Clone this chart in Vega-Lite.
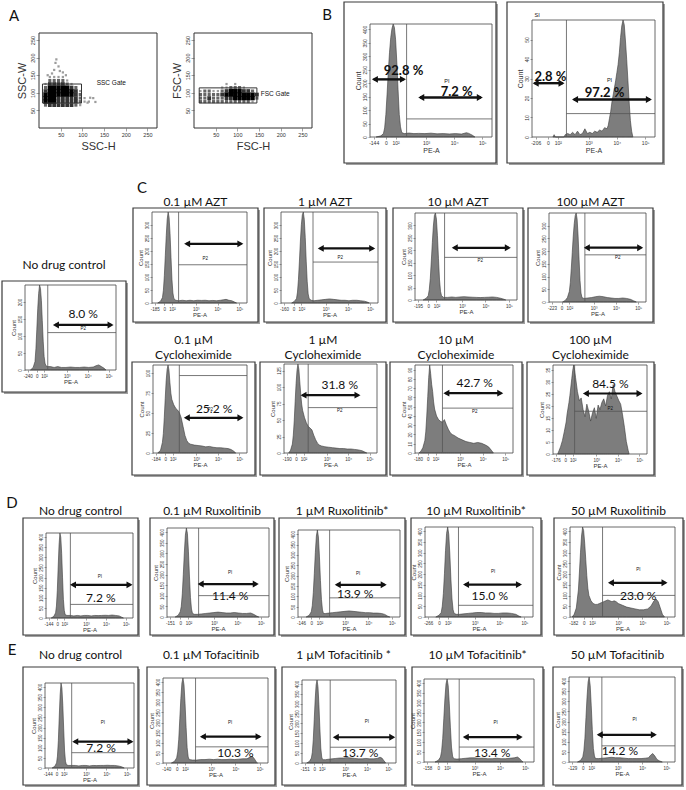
{
"$schema":"https://vega.github.io/schema/vega-lite/v6.json",
"width":686,"height":790,
"autosize":{"type":"none"},
"padding":0,
"background":"white",
"config":{
 "view":{"stroke":null},
 "axis":{"grid":false,"domain":false,"zindex":1,"labelFont":"Liberation Sans","labelFontSize":4.5,"labelColor":"#333","titleFont":"Liberation Sans","titleFontSize":6,"titleFontWeight":"normal","titleColor":"#333","tickSize":2,"tickWidth":0.5,"tickColor":"#444","labelOverlap":false,"labelFlush":false,"labelPadding":1,"titlePadding":1},
 "axisLeft":{"labelAngle":270,"labelAlign":"center","labelBaseline":"bottom"},
 "text":{"font":"Lato","fontSize":12,"color":"#111"},
 "rule":{"color":"#555","strokeWidth":0.8},
 "rect":{"fillOpacity":0,"stroke":"#444","strokeWidth":0.8},
 "point":{"filled":true,"opacity":1,"size":48,"color":"#111"},
 "square":{"opacity":1}
},
"resolve":{"scale":{"x":"independent","y":"independent"},"axis":{"x":"independent","y":"independent"}},
"datasets":{
 "ssc":[{"x":15,"y":65,"n":2},{"x":25,"y":65,"n":3},{"x":35,"y":65,"n":3},{"x":45,"y":65,"n":3},{"x":55,"y":65,"n":3},{"x":65,"y":65,"n":3},{"x":75,"y":65,"n":3},{"x":85,"y":65,"n":2},{"x":95,"y":65,"n":1},
  {"x":15,"y":75,"n":4},{"x":25,"y":75,"n":4},{"x":35,"y":75,"n":4},{"x":45,"y":75,"n":3},{"x":55,"y":75,"n":3},{"x":65,"y":75,"n":3},{"x":75,"y":75,"n":3},{"x":85,"y":75,"n":3},{"x":95,"y":75,"n":2},{"x":105,"y":75,"n":1},{"x":115,"y":75,"n":1},
  {"x":15,"y":85,"n":4},{"x":25,"y":85,"n":4},{"x":35,"y":85,"n":4},{"x":45,"y":85,"n":3},{"x":55,"y":85,"n":3},{"x":65,"y":85,"n":3},{"x":75,"y":85,"n":3},{"x":85,"y":85,"n":3},{"x":95,"y":85,"n":2},{"x":105,"y":85,"n":1},{"x":125,"y":85,"n":1},
  {"x":15,"y":95,"n":4},{"x":25,"y":95,"n":4},{"x":35,"y":95,"n":4},{"x":45,"y":95,"n":4},{"x":55,"y":95,"n":4},{"x":65,"y":95,"n":4},{"x":75,"y":95,"n":4},{"x":85,"y":95,"n":3},{"x":95,"y":95,"n":2},
  {"x":15,"y":105,"n":3},{"x":25,"y":105,"n":4},{"x":35,"y":105,"n":4},{"x":45,"y":105,"n":4},{"x":55,"y":105,"n":4},{"x":65,"y":105,"n":4},{"x":75,"y":105,"n":4},{"x":85,"y":105,"n":3},{"x":95,"y":105,"n":1},
  {"x":15,"y":115,"n":2},{"x":25,"y":115,"n":4},{"x":35,"y":115,"n":4},{"x":45,"y":115,"n":4},{"x":55,"y":115,"n":4},{"x":65,"y":115,"n":4},{"x":75,"y":115,"n":3},{"x":85,"y":115,"n":2},
  {"x":15,"y":125,"n":1},{"x":25,"y":125,"n":3},{"x":35,"y":125,"n":3},{"x":45,"y":125,"n":3},{"x":55,"y":125,"n":3},{"x":65,"y":125,"n":2},{"x":75,"y":125,"n":1},
  {"x":25,"y":135,"n":2},{"x":35,"y":135,"n":2},{"x":45,"y":135,"n":2},{"x":55,"y":135,"n":2},{"x":65,"y":135,"n":1},
  {"x":25,"y":145,"n":1},{"x":35,"y":145,"n":1},{"x":45,"y":145,"n":1},{"x":55,"y":145,"n":1},
  {"x":35,"y":165,"n":1},{"x":45,"y":175,"n":1},{"x":40,"y":195,"n":1},{"x":30,"y":155,"n":1},{"x":55,"y":158,"n":1},{"x":62,"y":150,"n":1},{"x":48,"y":162,"n":1},{"x":38,"y":185,"n":1},{"x":20,"y":150,"n":1},{"x":112,"y":72,"n":1},{"x":130,"y":74,"n":1},{"x":118,"y":86,"n":1}],
 "fsc":[{"x":15,"y":75,"n":2},{"x":25,"y":75,"n":2},{"x":35,"y":75,"n":2},{"x":45,"y":75,"n":2},{"x":55,"y":75,"n":2},{"x":65,"y":75,"n":2},{"x":75,"y":75,"n":2},{"x":85,"y":75,"n":2},{"x":95,"y":75,"n":2},{"x":105,"y":75,"n":2},{"x":115,"y":75,"n":2},{"x":125,"y":75,"n":2},{"x":135,"y":75,"n":1},
  {"x":15,"y":85,"n":2},{"x":25,"y":85,"n":2},{"x":35,"y":85,"n":3},{"x":45,"y":85,"n":2},{"x":55,"y":85,"n":2},{"x":65,"y":85,"n":2},{"x":75,"y":85,"n":3},{"x":85,"y":85,"n":3},{"x":95,"y":85,"n":4},{"x":105,"y":85,"n":4},{"x":115,"y":85,"n":4},{"x":125,"y":85,"n":4},{"x":135,"y":85,"n":4},{"x":145,"y":85,"n":2},
  {"x":15,"y":95,"n":2},{"x":25,"y":95,"n":2},{"x":35,"y":95,"n":2},{"x":45,"y":95,"n":2},{"x":55,"y":95,"n":2},{"x":65,"y":95,"n":3},{"x":75,"y":95,"n":4},{"x":85,"y":95,"n":4},{"x":95,"y":95,"n":4},{"x":105,"y":95,"n":4},{"x":115,"y":95,"n":4},{"x":125,"y":95,"n":4},{"x":135,"y":95,"n":4},{"x":145,"y":95,"n":3},
  {"x":15,"y":105,"n":1},{"x":25,"y":105,"n":2},{"x":35,"y":105,"n":2},{"x":45,"y":105,"n":1},{"x":55,"y":105,"n":1},{"x":65,"y":105,"n":2},{"x":75,"y":105,"n":3},{"x":85,"y":105,"n":4},{"x":95,"y":105,"n":4},{"x":105,"y":105,"n":4},{"x":115,"y":105,"n":3},{"x":125,"y":105,"n":3},{"x":135,"y":105,"n":2},
  {"x":65,"y":115,"n":1},{"x":75,"y":115,"n":1},{"x":85,"y":115,"n":2},{"x":95,"y":115,"n":2},{"x":105,"y":115,"n":2},{"x":115,"y":115,"n":1},
  {"x":75,"y":125,"n":1},{"x":95,"y":125,"n":1}],
 "b1":[{"x":5,"y":0},{"x":9,"y":1},{"x":11,"y":3},{"x":12,"y":8},{"x":13,"y":20},{"x":14,"y":38},{"x":15,"y":58},{"x":16,"y":75},{"x":17,"y":88},{"x":18,"y":96},{"x":19,"y":100},{"x":20,"y":97},{"x":21,"y":86},{"x":22,"y":66},{"x":23,"y":42},{"x":24,"y":20},{"x":25,"y":9},{"x":26,"y":4},{"x":28,"y":3},{"x":32,"y":3.5},{"x":36,"y":3},{"x":40,"y":3.2},{"x":45,"y":3},{"x":50,"y":3.4},{"x":55,"y":2.8},{"x":60,"y":3},{"x":65,"y":2.7},{"x":70,"y":3},{"x":75,"y":2.6},{"x":79,"y":3.8},{"x":81,"y":3.2},{"x":84,"y":1.5},{"x":86,"y":0}],
 "b2":[{"x":17,"y":0},{"x":18,"y":2},{"x":19,"y":0},{"x":26,"y":0},{"x":27,"y":2},{"x":29,"y":3},{"x":31,"y":2},{"x":33,"y":4},{"x":35,"y":2},{"x":37,"y":5},{"x":39,"y":2},{"x":41,"y":3},{"x":43,"y":7},{"x":45,"y":3},{"x":47,"y":4},{"x":49,"y":3},{"x":51,"y":5},{"x":53,"y":4},{"x":55,"y":6},{"x":57,"y":5},{"x":59,"y":8},{"x":61,"y":7},{"x":62,"y":10},{"x":63,"y":16},{"x":64,"y":22},{"x":65,"y":30},{"x":66,"y":36},{"x":67,"y":42},{"x":68,"y":48},{"x":69,"y":55},{"x":70,"y":62},{"x":71,"y":72},{"x":72,"y":85},{"x":73,"y":95},{"x":74,"y":100},{"x":75,"y":96},{"x":76,"y":82},{"x":77,"y":66},{"x":78,"y":48},{"x":79,"y":30},{"x":80,"y":14},{"x":81,"y":5},{"x":82,"y":0}],
 "cnd":[{"x":6,"y":0},{"x":9,"y":3},{"x":11,"y":10},{"x":12,"y":25},{"x":13,"y":48},{"x":14,"y":72},{"x":15,"y":90},{"x":16,"y":100},{"x":17,"y":96},{"x":18,"y":82},{"x":19,"y":58},{"x":20,"y":34},{"x":21,"y":16},{"x":22,"y":8},{"x":23,"y":5},{"x":25,"y":4},{"x":28,"y":4},{"x":32,"y":3},{"x":36,"y":4},{"x":40,"y":3},{"x":45,"y":3},{"x":50,"y":3.5},{"x":55,"y":3},{"x":60,"y":3},{"x":65,"y":3.5},{"x":70,"y":3},{"x":75,"y":3.5},{"x":78,"y":5},{"x":81,"y":6},{"x":84,"y":4},{"x":87,"y":2},{"x":89,"y":0}],
 "azt01":[{"x":6,"y":0},{"x":9,"y":2},{"x":11,"y":6},{"x":12,"y":14},{"x":13,"y":30},{"x":14,"y":52},{"x":15,"y":74},{"x":16,"y":92},{"x":17,"y":100},{"x":18,"y":94},{"x":19,"y":76},{"x":20,"y":50},{"x":21,"y":26},{"x":22,"y":11},{"x":23,"y":5},{"x":25,"y":3},{"x":28,"y":2.5},{"x":32,"y":3},{"x":36,"y":2.5},{"x":40,"y":3},{"x":44,"y":2.5},{"x":48,"y":3},{"x":52,"y":2.8},{"x":56,"y":3},{"x":60,"y":2.5},{"x":64,"y":2.8},{"x":68,"y":2.5},{"x":72,"y":3},{"x":75,"y":3.5},{"x":78,"y":4},{"x":81,"y":3},{"x":84,"y":2.5},{"x":87,"y":1},{"x":89,"y":0}],
 "azt1":[{"x":11,"y":0},{"x":14,"y":2},{"x":16,"y":5},{"x":17,"y":12},{"x":18,"y":26},{"x":19,"y":46},{"x":20,"y":68},{"x":21,"y":86},{"x":22,"y":97},{"x":23,"y":100},{"x":24,"y":92},{"x":25,"y":72},{"x":26,"y":46},{"x":27,"y":24},{"x":28,"y":10},{"x":29,"y":5},{"x":31,"y":3},{"x":34,"y":2.5},{"x":38,"y":3},{"x":42,"y":3.5},{"x":46,"y":4},{"x":50,"y":4.5},{"x":54,"y":4},{"x":58,"y":3.5},{"x":62,"y":3},{"x":66,"y":3},{"x":70,"y":2.5},{"x":74,"y":3},{"x":78,"y":3},{"x":82,"y":2.5},{"x":86,"y":2},{"x":89,"y":1},{"x":91,"y":0}],
 "azt10":[{"x":8,"y":0},{"x":11,"y":2},{"x":13,"y":5},{"x":14,"y":12},{"x":15,"y":25},{"x":16,"y":45},{"x":17,"y":66},{"x":18,"y":85},{"x":19,"y":97},{"x":20,"y":100},{"x":21,"y":93},{"x":22,"y":74},{"x":23,"y":48},{"x":24,"y":24},{"x":25,"y":10},{"x":26,"y":5},{"x":28,"y":3},{"x":32,"y":3},{"x":36,"y":3.5},{"x":40,"y":3},{"x":44,"y":3.5},{"x":48,"y":3.8},{"x":52,"y":3.5},{"x":56,"y":3.2},{"x":60,"y":3},{"x":64,"y":2.8},{"x":68,"y":3},{"x":72,"y":3.2},{"x":76,"y":3.5},{"x":80,"y":3},{"x":84,"y":2},{"x":87,"y":1},{"x":89,"y":0}],
 "azt100":[{"x":14,"y":0},{"x":17,"y":2},{"x":19,"y":5},{"x":21,"y":12},{"x":22,"y":22},{"x":23,"y":38},{"x":24,"y":56},{"x":25,"y":74},{"x":26,"y":88},{"x":27,"y":97},{"x":28,"y":100},{"x":29,"y":93},{"x":30,"y":74},{"x":31,"y":48},{"x":32,"y":24},{"x":33,"y":10},{"x":34,"y":5},{"x":36,"y":4},{"x":40,"y":4.5},{"x":44,"y":5},{"x":48,"y":6},{"x":52,"y":6.5},{"x":56,"y":6},{"x":60,"y":5},{"x":64,"y":4.5},{"x":68,"y":4},{"x":72,"y":4},{"x":76,"y":4.5},{"x":80,"y":4},{"x":84,"y":3},{"x":87,"y":1.5},{"x":90,"y":0}],
 "chx01":[{"x":5,"y":0},{"x":8,"y":3},{"x":10,"y":12},{"x":11,"y":22},{"x":12,"y":40},{"x":13,"y":62},{"x":14,"y":82},{"x":15,"y":95},{"x":16,"y":100},{"x":17,"y":94},{"x":18,"y":80},{"x":19,"y":68},{"x":20,"y":61},{"x":22,"y":55},{"x":24,"y":51},{"x":26,"y":49},{"x":28,"y":46},{"x":30,"y":40},{"x":32,"y":30},{"x":34,"y":20},{"x":36,"y":14},{"x":38,"y":11},{"x":40,"y":10},{"x":44,"y":9},{"x":48,"y":8.5},{"x":52,"y":8},{"x":56,"y":7},{"x":60,"y":7.5},{"x":64,"y":6.5},{"x":68,"y":6},{"x":72,"y":6},{"x":76,"y":5.5},{"x":80,"y":5},{"x":83,"y":4},{"x":86,"y":2},{"x":88,"y":0}],
 "chx1":[{"x":5,"y":0},{"x":7,"y":3},{"x":9,"y":10},{"x":10,"y":20},{"x":11,"y":36},{"x":12,"y":58},{"x":13,"y":78},{"x":14,"y":93},{"x":15,"y":100},{"x":16,"y":94},{"x":17,"y":80},{"x":18,"y":66},{"x":19,"y":55},{"x":20,"y":48},{"x":22,"y":40},{"x":24,"y":34},{"x":26,"y":30},{"x":28,"y":28},{"x":30,"y":26},{"x":32,"y":20},{"x":34,"y":15},{"x":36,"y":11},{"x":38,"y":9},{"x":40,"y":8},{"x":44,"y":7},{"x":48,"y":6.5},{"x":52,"y":6},{"x":56,"y":5.5},{"x":60,"y":5},{"x":64,"y":5},{"x":68,"y":4.5},{"x":72,"y":4.5},{"x":76,"y":4},{"x":80,"y":3.5},{"x":84,"y":2.5},{"x":87,"y":1},{"x":89,"y":0}],
 "chx10":[{"x":4,"y":0},{"x":6,"y":2},{"x":8,"y":6},{"x":10,"y":14},{"x":11,"y":24},{"x":12,"y":42},{"x":13,"y":64},{"x":14,"y":86},{"x":15,"y":100},{"x":16,"y":90},{"x":17,"y":78},{"x":18,"y":70},{"x":19,"y":58},{"x":20,"y":50},{"x":22,"y":42},{"x":24,"y":38},{"x":26,"y":36},{"x":28,"y":35},{"x":30,"y":38},{"x":32,"y":32},{"x":34,"y":27},{"x":36,"y":23},{"x":38,"y":21},{"x":40,"y":20},{"x":44,"y":17},{"x":48,"y":15},{"x":52,"y":13},{"x":56,"y":12},{"x":60,"y":11},{"x":64,"y":12},{"x":68,"y":11},{"x":72,"y":9},{"x":75,"y":7},{"x":78,"y":3},{"x":80,"y":0}],
 "chx100":[{"x":5,"y":0},{"x":8,"y":8},{"x":10,"y":15},{"x":12,"y":25},{"x":14,"y":36},{"x":15,"y":45},{"x":17,"y":58},{"x":18,"y":66},{"x":20,"y":85},{"x":21,"y":94},{"x":22,"y":100},{"x":23,"y":94},{"x":24,"y":86},{"x":26,"y":70},{"x":28,"y":60},{"x":30,"y":63},{"x":32,"y":50},{"x":34,"y":42},{"x":36,"y":56},{"x":38,"y":48},{"x":40,"y":37},{"x":42,"y":46},{"x":44,"y":52},{"x":46,"y":40},{"x":48,"y":55},{"x":50,"y":50},{"x":52,"y":58},{"x":54,"y":62},{"x":56,"y":54},{"x":58,"y":66},{"x":60,"y":70},{"x":62,"y":62},{"x":64,"y":78},{"x":66,"y":70},{"x":68,"y":65},{"x":70,"y":60},{"x":72,"y":56},{"x":74,"y":44},{"x":76,"y":30},{"x":78,"y":14},{"x":80,"y":4},{"x":81,"y":0}],
 "dnd":[{"x":6,"y":0},{"x":9,"y":2},{"x":11,"y":6},{"x":12,"y":14},{"x":13,"y":32},{"x":14,"y":60},{"x":15,"y":86},{"x":16,"y":100},{"x":17,"y":95},{"x":18,"y":76},{"x":19,"y":48},{"x":20,"y":22},{"x":21,"y":9},{"x":22,"y":4},{"x":24,"y":3},{"x":28,"y":3},{"x":32,"y":2.5},{"x":36,"y":3},{"x":40,"y":2.5},{"x":44,"y":3},{"x":48,"y":3},{"x":52,"y":2.5},{"x":56,"y":3},{"x":60,"y":2.8},{"x":64,"y":3},{"x":68,"y":3.2},{"x":72,"y":3},{"x":76,"y":3.5},{"x":80,"y":3},{"x":84,"y":2.5},{"x":87,"y":1},{"x":89,"y":0}],
 "r01":[{"x":8,"y":0},{"x":11,"y":2},{"x":13,"y":6},{"x":14,"y":12},{"x":15,"y":26},{"x":16,"y":48},{"x":17,"y":72},{"x":18,"y":92},{"x":19,"y":100},{"x":20,"y":94},{"x":21,"y":74},{"x":22,"y":46},{"x":23,"y":22},{"x":24,"y":9},{"x":25,"y":4},{"x":27,"y":3},{"x":30,"y":3},{"x":34,"y":3.5},{"x":38,"y":4},{"x":42,"y":4.5},{"x":46,"y":5},{"x":50,"y":5.5},{"x":54,"y":5},{"x":58,"y":4.5},{"x":62,"y":4.5},{"x":66,"y":5},{"x":70,"y":4.5},{"x":74,"y":4},{"x":78,"y":4},{"x":82,"y":4.5},{"x":85,"y":3},{"x":88,"y":1},{"x":90,"y":0}],
 "r1":[{"x":8,"y":0},{"x":11,"y":2},{"x":13,"y":6},{"x":14,"y":13},{"x":15,"y":28},{"x":16,"y":50},{"x":17,"y":74},{"x":18,"y":93},{"x":19,"y":100},{"x":20,"y":92},{"x":21,"y":70},{"x":22,"y":42},{"x":23,"y":20},{"x":24,"y":8},{"x":25,"y":4},{"x":27,"y":4},{"x":30,"y":4.5},{"x":34,"y":5},{"x":38,"y":5.5},{"x":42,"y":6},{"x":46,"y":6.5},{"x":50,"y":7},{"x":54,"y":6.5},{"x":58,"y":6},{"x":62,"y":5.5},{"x":66,"y":5},{"x":70,"y":5},{"x":74,"y":4.5},{"x":78,"y":4.5},{"x":82,"y":4},{"x":85,"y":3},{"x":88,"y":1},{"x":90,"y":0}],
 "r10":[{"x":10,"y":0},{"x":13,"y":2},{"x":15,"y":5},{"x":16,"y":12},{"x":17,"y":26},{"x":18,"y":48},{"x":19,"y":74},{"x":20,"y":93},{"x":21,"y":100},{"x":22,"y":92},{"x":23,"y":70},{"x":24,"y":42},{"x":25,"y":20},{"x":26,"y":8},{"x":27,"y":4},{"x":29,"y":3},{"x":32,"y":3},{"x":36,"y":3.5},{"x":40,"y":4},{"x":44,"y":4.5},{"x":48,"y":5},{"x":52,"y":5},{"x":56,"y":4.5},{"x":60,"y":4.5},{"x":64,"y":4},{"x":68,"y":4},{"x":72,"y":4.5},{"x":76,"y":4.5},{"x":80,"y":4},{"x":84,"y":3},{"x":87,"y":1},{"x":89,"y":0}],
 "r50":[{"x":2,"y":0},{"x":4,"y":3},{"x":6,"y":10},{"x":8,"y":30},{"x":9,"y":50},{"x":10,"y":72},{"x":11,"y":90},{"x":12,"y":100},{"x":13,"y":96},{"x":14,"y":82},{"x":15,"y":64},{"x":16,"y":46},{"x":17,"y":32},{"x":18,"y":24},{"x":20,"y":18},{"x":22,"y":15},{"x":24,"y":14},{"x":26,"y":14},{"x":28,"y":15},{"x":30,"y":16},{"x":32,"y":17},{"x":34,"y":18},{"x":36,"y":19},{"x":38,"y":18},{"x":40,"y":17},{"x":42,"y":18},{"x":44,"y":17},{"x":46,"y":15},{"x":50,"y":13},{"x":54,"y":11},{"x":58,"y":10},{"x":62,"y":9},{"x":66,"y":8},{"x":70,"y":8},{"x":74,"y":9},{"x":77,"y":12},{"x":80,"y":18},{"x":82,"y":20},{"x":84,"y":17},{"x":86,"y":10},{"x":88,"y":3},{"x":90,"y":0}],
 "end":[{"x":8,"y":0},{"x":11,"y":2},{"x":13,"y":6},{"x":14,"y":14},{"x":15,"y":32},{"x":16,"y":60},{"x":17,"y":86},{"x":18,"y":100},{"x":19,"y":94},{"x":20,"y":74},{"x":21,"y":46},{"x":22,"y":20},{"x":23,"y":8},{"x":24,"y":4},{"x":26,"y":3},{"x":30,"y":3},{"x":34,"y":3},{"x":38,"y":2.5},{"x":42,"y":3},{"x":46,"y":3},{"x":50,"y":2.5},{"x":54,"y":3},{"x":58,"y":2.8},{"x":62,"y":3},{"x":66,"y":3},{"x":70,"y":3.2},{"x":74,"y":3},{"x":78,"y":3},{"x":82,"y":2.5},{"x":86,"y":1.5},{"x":89,"y":0}],
 "t01":[{"x":8,"y":0},{"x":11,"y":2},{"x":13,"y":6},{"x":14,"y":13},{"x":15,"y":28},{"x":16,"y":52},{"x":17,"y":76},{"x":18,"y":94},{"x":19,"y":100},{"x":20,"y":92},{"x":21,"y":70},{"x":22,"y":42},{"x":23,"y":18},{"x":24,"y":7},{"x":25,"y":4},{"x":28,"y":3.5},{"x":32,"y":3.5},{"x":36,"y":4},{"x":40,"y":4},{"x":44,"y":4.5},{"x":48,"y":4},{"x":52,"y":4.5},{"x":56,"y":4},{"x":60,"y":4},{"x":64,"y":4.5},{"x":68,"y":4},{"x":72,"y":4.5},{"x":76,"y":5},{"x":80,"y":5},{"x":83,"y":7},{"x":85,"y":8},{"x":87,"y":5},{"x":89,"y":1},{"x":90,"y":0}],
 "t1":[{"x":5,"y":0},{"x":8,"y":2},{"x":10,"y":6},{"x":11,"y":13},{"x":12,"y":28},{"x":13,"y":52},{"x":14,"y":76},{"x":15,"y":94},{"x":16,"y":100},{"x":17,"y":92},{"x":18,"y":70},{"x":19,"y":42},{"x":20,"y":18},{"x":21,"y":7},{"x":22,"y":4},{"x":25,"y":4},{"x":28,"y":4.5},{"x":32,"y":5},{"x":36,"y":5.5},{"x":40,"y":6},{"x":44,"y":6},{"x":48,"y":6.5},{"x":52,"y":6},{"x":56,"y":5.5},{"x":60,"y":5},{"x":64,"y":5},{"x":68,"y":5.5},{"x":72,"y":5},{"x":76,"y":5},{"x":80,"y":5.5},{"x":83,"y":7},{"x":85,"y":6},{"x":87,"y":3},{"x":89,"y":0}],
 "t10":[{"x":10,"y":0},{"x":13,"y":2},{"x":15,"y":6},{"x":16,"y":13},{"x":17,"y":28},{"x":18,"y":52},{"x":19,"y":76},{"x":20,"y":94},{"x":21,"y":100},{"x":22,"y":92},{"x":23,"y":70},{"x":24,"y":42},{"x":25,"y":18},{"x":26,"y":7},{"x":27,"y":4},{"x":30,"y":3.5},{"x":34,"y":4},{"x":38,"y":4.5},{"x":42,"y":5},{"x":46,"y":5},{"x":50,"y":4.5},{"x":54,"y":4.5},{"x":58,"y":4},{"x":62,"y":4},{"x":66,"y":4.5},{"x":70,"y":4},{"x":74,"y":4},{"x":78,"y":4.5},{"x":82,"y":5},{"x":85,"y":6},{"x":87,"y":4},{"x":89,"y":1},{"x":90,"y":0}],
 "t50":[{"x":8,"y":0},{"x":11,"y":2},{"x":13,"y":6},{"x":14,"y":13},{"x":15,"y":28},{"x":16,"y":52},{"x":17,"y":76},{"x":18,"y":94},{"x":19,"y":100},{"x":20,"y":90},{"x":21,"y":66},{"x":22,"y":38},{"x":23,"y":16},{"x":24,"y":7},{"x":25,"y":4},{"x":28,"y":4},{"x":32,"y":4.5},{"x":36,"y":5},{"x":40,"y":5.5},{"x":44,"y":5},{"x":48,"y":5},{"x":52,"y":4.5},{"x":56,"y":4},{"x":60,"y":4},{"x":64,"y":4},{"x":68,"y":4},{"x":72,"y":4.5},{"x":75,"y":5},{"x":77,"y":8},{"x":79,"y":10},{"x":81,"y":7},{"x":83,"y":3},{"x":85,"y":1.5},{"x":88,"y":0}]
},
"layer":[
 {"data":{"values":[{}]},"layer":[
  {"data":{"name":"ssc"},"mark":{"type":"square"},
   "encoding":{
    "x":{"field":"x","type":"quantitative","scale":{"domain":[0,272],"range":[39,157],"nice":false,"zero":false},"axis":{"zindex":1,"labelOverlap":false,"orient":"bottom","offset":-662,"values":[50,100,150,200,250],"title":"SSC-H","titleFontSize":11,"labelFontSize":5.5,"tickSize":3,"titlePadding":3}},
    "y":{"field":"y","type":"quantitative","scale":{"domain":[0,270],"range":[128,33],"nice":false,"zero":false},"axis":{"zindex":1,"labelOverlap":false,"orient":"left","offset":-39,"values":[50,100,150,200,250],"title":"SSC-W","titleFontSize":11,"labelFontSize":5.5,"tickSize":3,"titlePadding":3}},
    "color":{"field":"n","type":"quantitative","scale":{"domain":[1,4],"range":["#9c9c9c","#000000"]},"legend":null},
    "size":{"field":"n","type":"quantitative","scale":{"domain":[1,4],"range":[5,19]},"legend":null}}},
  {"mark":{"type":"rect","stroke":"#333","strokeWidth":1},"encoding":{"x":{"datum":0},"x2":{"datum":272},"y":{"datum":0},"y2":{"datum":270}}},
  {"mark":{"type":"rect","stroke":"#333","strokeWidth":1},"encoding":{"x":{"datum":8},"x2":{"datum":98},"y":{"datum":71},"y2":{"datum":125}}},
  {"mark":{"type":"text","text":"SSC Gate","font":"Liberation Sans","fontSize":6.5,"align":"left"},"encoding":{"x":{"datum":133},"y":{"datum":128}}},
  {"mark":{"type":"text","text":"A","fontSize":15,"baseline":"alphabetic"},"encoding":{"x":{"datum":-57.6},"y":{"datum":304}}}
 ]},
 {"data":{"values":[{}]},"layer":[
  {"data":{"name":"fsc"},"mark":{"type":"square"},
   "encoding":{
    "x":{"field":"x","type":"quantitative","scale":{"domain":[0,272],"range":[194,312],"nice":false,"zero":false},"axis":{"zindex":1,"labelOverlap":false,"orient":"bottom","offset":-662,"values":[50,100,150,200,250],"title":"FSC-H","titleFontSize":11,"labelFontSize":5.5,"tickSize":3,"titlePadding":3}},
    "y":{"field":"y","type":"quantitative","scale":{"domain":[0,270],"range":[128,33],"nice":false,"zero":false},"axis":{"zindex":1,"labelOverlap":false,"orient":"left","offset":-194,"values":[50,100,150,200,250],"title":"FSC-W","titleFontSize":11,"labelFontSize":5.5,"tickSize":3,"titlePadding":3}},
    "color":{"field":"n","type":"quantitative","scale":{"domain":[1,4],"range":["#9c9c9c","#000000"]},"legend":null},
    "size":{"field":"n","type":"quantitative","scale":{"domain":[1,4],"range":[5,19]},"legend":null}}},
  {"mark":{"type":"rect","stroke":"#333","strokeWidth":1},"encoding":{"x":{"datum":0},"x2":{"datum":272},"y":{"datum":0},"y2":{"datum":270}}},
  {"mark":{"type":"rect","stroke":"#333","strokeWidth":1},"encoding":{"x":{"datum":12},"x2":{"datum":145},"y":{"datum":71},"y2":{"datum":114}}},
  {"mark":{"type":"text","text":"FSC Gate","font":"Liberation Sans","fontSize":6.5,"align":"left"},"encoding":{"x":{"datum":154},"y":{"datum":97}}}
 ]},
 {"data":{"values":[{}]},"layer":[
  {"mark":{"type":"rect","fill":"#a0a0a0","fillOpacity":1,"strokeWidth":0},"encoding":{"x":{"datum":-19.67},"x2":{"datum":104.92},"y":{"datum":-24.78},"y2":{"datum":117.7}}},
  {"mark":{"type":"rect","fill":"white","fillOpacity":1,"stroke":"#3a3a3a","strokeWidth":1.2},"encoding":{"x":{"datum":-21.31},"x2":{"datum":103.28},"y":{"datum":-23.01},"y2":{"datum":119.47}}},
  {"data":{"name":"b1"},"mark":{"type":"area","fill":"#7d7d7d","stroke":"#3a3a3a","strokeWidth":0.6},
   "encoding":{
    "x":{"field":"x","type":"quantitative","scale":{"domain":[0,100],"range":[370,492],"nice":false,"zero":false},"axis":{"zindex":1,"labelOverlap":false,"orient":"bottom","offset":-653,"labelFontSize":5,"titleFontSize":7,"values":[3,13,21,46,69,92],"labelExpr":"datum.value==3?'-144':datum.value==13?'0':datum.value==21?'10²':datum.value==46?'10³':datum.value==69?'10⁴':'10⁵'","title":"PE-A"}},
    "y":{"field":"y","type":"quantitative","scale":{"domain":[0,100],"range":[137,24],"nice":false},"axis":{"zindex":1,"labelOverlap":false,"orient":"left","offset":-370,"labelFontSize":5,"titleFontSize":7,"values":[0,11.905,23.81,35.714,47.619,59.524,71.429,83.333,95.238],"labelExpr":"format(datum.value*4.2,'d')","title":"Count"}}}},
  {"mark":{"type":"rect"},"encoding":{"x":{"datum":0},"x2":{"datum":100},"y":{"datum":0},"y2":{"datum":100}}},
  {"mark":{"type":"rule"},"encoding":{"x":{"datum":30},"y":{"datum":0},"y2":{"datum":100}}},
  {"mark":{"type":"rule"},"encoding":{"x":{"datum":30},"x2":{"datum":100},"y":{"datum":16}}},
  {"mark":{"type":"rule","color":"#111","strokeWidth":2.4},"encoding":{"x":{"datum":3},"x2":{"datum":28},"y":{"datum":51}}},
  {"mark":{"type":"point","shape":"triangle-left"},"encoding":{"x":{"datum":4},"y":{"datum":51}}},
  {"mark":{"type":"point","shape":"triangle-right"},"encoding":{"x":{"datum":27},"y":{"datum":51}}},
  {"mark":{"type":"rule","color":"#111","strokeWidth":2.4},"encoding":{"x":{"datum":41},"x2":{"datum":91},"y":{"datum":35}}},
  {"mark":{"type":"point","shape":"triangle-left"},"encoding":{"x":{"datum":42},"y":{"datum":35}}},
  {"mark":{"type":"point","shape":"triangle-right"},"encoding":{"x":{"datum":90},"y":{"datum":35}}},
  {"mark":{"type":"text","text":"92.8 %","fontWeight":"bold","fontSize":13},"encoding":{"x":{"datum":27.5},"y":{"datum":58}}},
  {"mark":{"type":"text","text":"7.2 %","fontWeight":"bold","fontSize":13},"encoding":{"x":{"datum":71},"y":{"datum":40}}},
  {"mark":{"type":"text","text":"PI","fontSize":5.5,"font":"Liberation Sans"},"encoding":{"x":{"datum":63},"y":{"datum":50}}},
  {"mark":{"type":"text","text":"B","fontSize":15,"baseline":"alphabetic"},"encoding":{"x":{"datum":-35.25},"y":{"datum":103.54}}}
 ]},
 {"data":{"values":[{}]},"layer":[
  {"mark":{"type":"rect","fill":"#a0a0a0","fillOpacity":1,"strokeWidth":0},"encoding":{"x":{"datum":-18.7},"x2":{"datum":108.13},"y":{"datum":-23.93},"y2":{"datum":113.67}}},
  {"mark":{"type":"rect","fill":"white","fillOpacity":1,"stroke":"#3a3a3a","strokeWidth":1.2},"encoding":{"x":{"datum":-20.33},"x2":{"datum":106.5},"y":{"datum":-22.22},"y2":{"datum":115.38}}},
  {"data":{"name":"b2"},"mark":{"type":"area","fill":"#7d7d7d","stroke":"#3a3a3a","strokeWidth":0.6},
   "encoding":{
    "x":{"field":"x","type":"quantitative","scale":{"domain":[0,100],"range":[532,655],"nice":false,"zero":false},"axis":{"zindex":1,"labelOverlap":false,"orient":"bottom","offset":-653,"labelFontSize":5,"titleFontSize":7,"values":[3,13,21,46,69,92],"labelExpr":"datum.value==3?'-206':datum.value==13?'0':datum.value==21?'10²':datum.value==46?'10³':datum.value==69?'10⁴':'10⁵'","title":"PE-A"}},
    "y":{"field":"y","type":"quantitative","scale":{"domain":[0,100],"range":[137,20],"nice":false},"axis":{"zindex":1,"labelOverlap":false,"orient":"left","offset":-532,"labelFontSize":5,"titleFontSize":7,"values":[0,16.667,33.333,50,66.667,83.333],"labelExpr":"format(datum.value*0.6,'d')","title":"Count"}}}},
  {"mark":{"type":"rect"},"encoding":{"x":{"datum":0},"x2":{"datum":100},"y":{"datum":0},"y2":{"datum":100}}},
  {"mark":{"type":"rule"},"encoding":{"x":{"datum":28},"y":{"datum":0},"y2":{"datum":100}}},
  {"mark":{"type":"rule"},"encoding":{"x":{"datum":28},"x2":{"datum":100},"y":{"datum":20}}},
  {"mark":{"type":"rule","color":"#111","strokeWidth":2.4},"encoding":{"x":{"datum":2},"x2":{"datum":25},"y":{"datum":46}}},
  {"mark":{"type":"point","shape":"triangle-left"},"encoding":{"x":{"datum":3},"y":{"datum":46}}},
  {"mark":{"type":"point","shape":"triangle-right"},"encoding":{"x":{"datum":24},"y":{"datum":46}}},
  {"mark":{"type":"rule","color":"#111","strokeWidth":2.4},"encoding":{"x":{"datum":34},"x2":{"datum":96},"y":{"datum":32}}},
  {"mark":{"type":"point","shape":"triangle-left"},"encoding":{"x":{"datum":35},"y":{"datum":32}}},
  {"mark":{"type":"point","shape":"triangle-right"},"encoding":{"x":{"datum":95},"y":{"datum":32}}},
  {"mark":{"type":"text","text":"2.8 %","fontWeight":"bold","fontSize":13},"encoding":{"x":{"datum":15},"y":{"datum":51}}},
  {"mark":{"type":"text","text":"97.2 %","fontWeight":"bold","fontSize":13},"encoding":{"x":{"datum":59},"y":{"datum":38}}},
  {"mark":{"type":"text","text":"PI","fontSize":5.5,"font":"Liberation Sans"},"encoding":{"x":{"datum":63},"y":{"datum":49}}},
  {"mark":{"type":"text","text":"SI","fontSize":5.5,"font":"Liberation Sans","align":"left"},"encoding":{"x":{"datum":2},"y":{"datum":104}}}
 ]},
 {"data":{"values":[{}]},"layer":[
  {"mark":{"type":"rect","fill":"#a0a0a0","fillOpacity":1,"strokeWidth":0},"encoding":{"x":{"datum":-23.07},"x2":{"datum":113.19},"y":{"datum":-28.23},"y2":{"datum":102.36}}},
  {"mark":{"type":"rect","fill":"white","fillOpacity":1,"stroke":"#3a3a3a","strokeWidth":1.2},"encoding":{"x":{"datum":-25.27},"x2":{"datum":110.99},"y":{"datum":-25.88},"y2":{"datum":104.71}}},
  {"data":{"name":"cnd"},"mark":{"type":"area","fill":"#7d7d7d","stroke":"#3a3a3a","strokeWidth":0.6},
   "encoding":{
    "x":{"field":"x","type":"quantitative","scale":{"domain":[0,100],"range":[25,116],"nice":false,"zero":false},"axis":{"zindex":1,"labelOverlap":false,"orient":"bottom","offset":-420,"values":[3,13,21,46,69,92],"labelExpr":"datum.value==3?'-240':datum.value==13?'0':datum.value==21?'10²':datum.value==46?'10³':datum.value==69?'10⁴':'10⁵'","title":"PE-A"}},
    "y":{"field":"y","type":"quantitative","scale":{"domain":[0,100],"range":[370,285],"nice":false},"axis":{"zindex":1,"labelOverlap":false,"orient":"left","offset":-25,"values":[0,20,40,60,80],"labelExpr":"format(datum.value*2.5,'d')","title":"Count"}}}},
  {"mark":{"type":"rect"},"encoding":{"x":{"datum":0},"x2":{"datum":100},"y":{"datum":0},"y2":{"datum":100}}},
  {"mark":{"type":"rule"},"encoding":{"x":{"datum":25},"y":{"datum":0},"y2":{"datum":100}}},
  {"mark":{"type":"rule"},"encoding":{"x":{"datum":25},"x2":{"datum":100},"y":{"datum":44}}},
  {"mark":{"type":"rule","color":"#111","strokeWidth":2.2},"encoding":{"x":{"datum":33},"x2":{"datum":95},"y":{"datum":53}}},
  {"mark":{"type":"point","shape":"triangle-left"},"encoding":{"x":{"datum":34},"y":{"datum":53}}},
  {"mark":{"type":"point","shape":"triangle-right"},"encoding":{"x":{"datum":94},"y":{"datum":53}}},
  {"mark":{"type":"text","text":"8.0 %"},"encoding":{"x":{"datum":64},"y":{"datum":66}}},
  {"mark":{"type":"text","text":"P2","fontSize":4.5,"font":"Liberation Sans"},"encoding":{"x":{"datum":64},"y":{"datum":48}}},
  {"mark":{"type":"text","text":"No drug control","baseline":"alphabetic"},"encoding":{"x":{"datum":42.86},"y":{"datum":118.82}}}
 ]},
 {"data":{"values":[{}]},"layer":[
  {"mark":{"type":"rect","fill":"#a0a0a0","fillOpacity":1,"strokeWidth":0},"encoding":{"x":{"datum":-17.89},"x2":{"datum":113.69},"y":{"datum":-23.08},"y2":{"datum":102.2}}},
  {"mark":{"type":"rect","fill":"white","fillOpacity":1,"stroke":"#3a3a3a","strokeWidth":1.2},"encoding":{"x":{"datum":-20},"x2":{"datum":111.58},"y":{"datum":-20.88},"y2":{"datum":104.4}}},
  {"data":{"name":"azt01"},"mark":{"type":"area","fill":"#7d7d7d","stroke":"#3a3a3a","strokeWidth":0.6},
   "encoding":{
    "x":{"field":"x","type":"quantitative","scale":{"domain":[0,100],"range":[152,247],"nice":false,"zero":false},"axis":{"zindex":1,"labelOverlap":false,"orient":"bottom","offset":-487,"values":[3,13,21,46,69,92],"labelExpr":"datum.value==3?'-185':datum.value==13?'0':datum.value==21?'10²':datum.value==46?'10³':datum.value==69?'10⁴':'10⁵'","title":"PE-A"}},
    "y":{"field":"y","type":"quantitative","scale":{"domain":[0,100],"range":[303,212],"nice":false},"axis":{"zindex":1,"labelOverlap":false,"orient":"left","offset":-152,"values":[0,14.286,28.571,42.857,57.143,71.429,85.714],"labelExpr":"format(datum.value*3.5,'d')","title":"Count"}}}},
  {"mark":{"type":"rect"},"encoding":{"x":{"datum":0},"x2":{"datum":100},"y":{"datum":0},"y2":{"datum":100}}},
  {"mark":{"type":"rule"},"encoding":{"x":{"datum":28},"y":{"datum":0},"y2":{"datum":100}}},
  {"mark":{"type":"rule"},"encoding":{"x":{"datum":28},"x2":{"datum":100},"y":{"datum":42}}},
  {"mark":{"type":"rule","color":"#111","strokeWidth":2.2},"encoding":{"x":{"datum":36},"x2":{"datum":94},"y":{"datum":65}}},
  {"mark":{"type":"point","shape":"triangle-left"},"encoding":{"x":{"datum":37},"y":{"datum":65}}},
  {"mark":{"type":"point","shape":"triangle-right"},"encoding":{"x":{"datum":93},"y":{"datum":65}}},
  {"mark":{"type":"text","text":"P2","fontSize":4.5,"font":"Liberation Sans"},"encoding":{"x":{"datum":56},"y":{"datum":48}}},
  {"mark":{"type":"text","text":"0.1 µM AZT","baseline":"alphabetic"},"encoding":{"x":{"datum":45.79},"y":{"datum":106.59}}},
  {"mark":{"type":"text","text":"C","fontSize":15,"baseline":"alphabetic"},"encoding":{"x":{"datum":-10.53},"y":{"datum":120.88}}}
 ]},
 {"data":{"values":[{}]},"layer":[
  {"mark":{"type":"rect","fill":"#a0a0a0","fillOpacity":1,"strokeWidth":0},"encoding":{"x":{"datum":-15.47},"x2":{"datum":110.31},"y":{"datum":-23.08},"y2":{"datum":102.2}}},
  {"mark":{"type":"rect","fill":"white","fillOpacity":1,"stroke":"#3a3a3a","strokeWidth":1.2},"encoding":{"x":{"datum":-17.53},"x2":{"datum":108.25},"y":{"datum":-20.88},"y2":{"datum":104.4}}},
  {"data":{"name":"azt1"},"mark":{"type":"area","fill":"#7d7d7d","stroke":"#3a3a3a","strokeWidth":0.6},
   "encoding":{
    "x":{"field":"x","type":"quantitative","scale":{"domain":[0,100],"range":[281,378],"nice":false,"zero":false},"axis":{"zindex":1,"labelOverlap":false,"orient":"bottom","offset":-487,"values":[3,13,21,46,69,92],"labelExpr":"datum.value==3?'-160':datum.value==13?'0':datum.value==21?'10²':datum.value==46?'10³':datum.value==69?'10⁴':'10⁵'","title":"PE-A"}},
    "y":{"field":"y","type":"quantitative","scale":{"domain":[0,100],"range":[303,212],"nice":false},"axis":{"zindex":1,"labelOverlap":false,"orient":"left","offset":-281,"values":[0,14.286,28.571,42.857,57.143,71.429,85.714],"labelExpr":"format(datum.value*3.5,'d')","title":"Count"}}}},
  {"mark":{"type":"rect"},"encoding":{"x":{"datum":0},"x2":{"datum":100},"y":{"datum":0},"y2":{"datum":100}}},
  {"mark":{"type":"rule"},"encoding":{"x":{"datum":33},"y":{"datum":0},"y2":{"datum":100}}},
  {"mark":{"type":"rule"},"encoding":{"x":{"datum":33},"x2":{"datum":100},"y":{"datum":45}}},
  {"mark":{"type":"rule","color":"#111","strokeWidth":2.2},"encoding":{"x":{"datum":40},"x2":{"datum":95},"y":{"datum":60}}},
  {"mark":{"type":"point","shape":"triangle-left"},"encoding":{"x":{"datum":41},"y":{"datum":60}}},
  {"mark":{"type":"point","shape":"triangle-right"},"encoding":{"x":{"datum":94},"y":{"datum":60}}},
  {"mark":{"type":"text","text":"P2","fontSize":4.5,"font":"Liberation Sans"},"encoding":{"x":{"datum":61},"y":{"datum":49}}},
  {"mark":{"type":"text","text":"1 µM AZT","baseline":"alphabetic"},"encoding":{"x":{"datum":45.36},"y":{"datum":106.59}}}
 ]},
 {"data":{"values":[{}]},"layer":[
  {"mark":{"type":"rect","fill":"#a0a0a0","fillOpacity":1,"strokeWidth":0},"encoding":{"x":{"datum":-19.61},"x2":{"datum":107.84},"y":{"datum":-27.59},"y2":{"datum":103.45}}},
  {"mark":{"type":"rect","fill":"white","fillOpacity":1,"stroke":"#3a3a3a","strokeWidth":1.2},"encoding":{"x":{"datum":-21.57},"x2":{"datum":105.88},"y":{"datum":-25.29},"y2":{"datum":105.75}}},
  {"data":{"name":"azt10"},"mark":{"type":"area","fill":"#7d7d7d","stroke":"#3a3a3a","strokeWidth":0.6},
   "encoding":{
    "x":{"field":"x","type":"quantitative","scale":{"domain":[0,100],"range":[415,517],"nice":false,"zero":false},"axis":{"zindex":1,"labelOverlap":false,"orient":"bottom","offset":-490,"values":[3,13,21,46,69,92],"labelExpr":"datum.value==3?'-195':datum.value==13?'0':datum.value==21?'10²':datum.value==46?'10³':datum.value==69?'10⁴':'10⁵'","title":"PE-A"}},
    "y":{"field":"y","type":"quantitative","scale":{"domain":[0,100],"range":[300,213],"nice":false},"axis":{"zindex":1,"labelOverlap":false,"orient":"left","offset":-415,"values":[0,14.286,28.571,42.857,57.143,71.429,85.714],"labelExpr":"format(datum.value*3.5,'d')","title":"Count"}}}},
  {"mark":{"type":"rect"},"encoding":{"x":{"datum":0},"x2":{"datum":100},"y":{"datum":0},"y2":{"datum":100}}},
  {"mark":{"type":"rule"},"encoding":{"x":{"datum":29},"y":{"datum":0},"y2":{"datum":100}}},
  {"mark":{"type":"rule"},"encoding":{"x":{"datum":29},"x2":{"datum":100},"y":{"datum":49}}},
  {"mark":{"type":"rule","color":"#111","strokeWidth":2.2},"encoding":{"x":{"datum":38},"x2":{"datum":92},"y":{"datum":60}}},
  {"mark":{"type":"point","shape":"triangle-left"},"encoding":{"x":{"datum":39},"y":{"datum":60}}},
  {"mark":{"type":"point","shape":"triangle-right"},"encoding":{"x":{"datum":91},"y":{"datum":60}}},
  {"mark":{"type":"text","text":"P2","fontSize":4.5,"font":"Liberation Sans"},"encoding":{"x":{"datum":64},"y":{"datum":45}}},
  {"mark":{"type":"text","text":"10 µM AZT","baseline":"alphabetic"},"encoding":{"x":{"datum":42.16},"y":{"datum":108.05}}}
 ]},
 {"data":{"values":[{}]},"layer":[
  {"mark":{"type":"rect","fill":"#a0a0a0","fillOpacity":1,"strokeWidth":0},"encoding":{"x":{"datum":-19.59},"x2":{"datum":109.28},"y":{"datum":-24.72},"y2":{"datum":103.37}}},
  {"mark":{"type":"rect","fill":"white","fillOpacity":1,"stroke":"#3a3a3a","strokeWidth":1.2},"encoding":{"x":{"datum":-21.65},"x2":{"datum":107.22},"y":{"datum":-22.47},"y2":{"datum":105.62}}},
  {"data":{"name":"azt100"},"mark":{"type":"area","fill":"#7d7d7d","stroke":"#3a3a3a","strokeWidth":0.6},
   "encoding":{
    "x":{"field":"x","type":"quantitative","scale":{"domain":[0,100],"range":[549,646],"nice":false,"zero":false},"axis":{"zindex":1,"labelOverlap":false,"orient":"bottom","offset":-488,"values":[3,13,21,46,69,92],"labelExpr":"datum.value==3?'-223':datum.value==13?'0':datum.value==21?'10²':datum.value==46?'10³':datum.value==69?'10⁴':'10⁵'","title":"PE-A"}},
    "y":{"field":"y","type":"quantitative","scale":{"domain":[0,100],"range":[302,213],"nice":false},"axis":{"zindex":1,"labelOverlap":false,"orient":"left","offset":-549,"values":[0,14.286,28.571,42.857,57.143,71.429,85.714],"labelExpr":"format(datum.value*3.5,'d')","title":"Count"}}}},
  {"mark":{"type":"rect"},"encoding":{"x":{"datum":0},"x2":{"datum":100},"y":{"datum":0},"y2":{"datum":100}}},
  {"mark":{"type":"rule"},"encoding":{"x":{"datum":37},"y":{"datum":0},"y2":{"datum":100}}},
  {"mark":{"type":"rule"},"encoding":{"x":{"datum":37},"x2":{"datum":100},"y":{"datum":53}}},
  {"mark":{"type":"rule","color":"#111","strokeWidth":2.2},"encoding":{"x":{"datum":38},"x2":{"datum":95},"y":{"datum":61}}},
  {"mark":{"type":"point","shape":"triangle-left"},"encoding":{"x":{"datum":39},"y":{"datum":61}}},
  {"mark":{"type":"point","shape":"triangle-right"},"encoding":{"x":{"datum":94},"y":{"datum":61}}},
  {"mark":{"type":"text","text":"P2","fontSize":4.5,"font":"Liberation Sans"},"encoding":{"x":{"datum":71},"y":{"datum":49}}},
  {"mark":{"type":"text","text":"100 µM AZT","baseline":"alphabetic"},"encoding":{"x":{"datum":42.79},"y":{"datum":107.87}}}
 ]},
 {"data":{"values":[{}]},"layer":[
  {"mark":{"type":"rect","fill":"#a0a0a0","fillOpacity":1,"strokeWidth":0},"encoding":{"x":{"datum":-20.21},"x2":{"datum":110.64},"y":{"datum":-27.27},"y2":{"datum":101.14}}},
  {"mark":{"type":"rect","fill":"white","fillOpacity":1,"stroke":"#3a3a3a","strokeWidth":1.2},"encoding":{"x":{"datum":-22.34},"x2":{"datum":108.51},"y":{"datum":-25},"y2":{"datum":103.41}}},
  {"data":{"name":"chx01"},"mark":{"type":"area","fill":"#7d7d7d","stroke":"#3a3a3a","strokeWidth":0.6},
   "encoding":{
    "x":{"field":"x","type":"quantitative","scale":{"domain":[0,100],"range":[153,247],"nice":false,"zero":false},"axis":{"zindex":1,"labelOverlap":false,"orient":"bottom","offset":-337,"values":[3,13,21,46,69,92],"labelExpr":"datum.value==3?'-184':datum.value==13?'0':datum.value==21?'10²':datum.value==46?'10³':datum.value==69?'10⁴':'10⁵'","title":"PE-A"}},
    "y":{"field":"y","type":"quantitative","scale":{"domain":[0,100],"range":[453,365],"nice":false},"axis":{"zindex":1,"labelOverlap":false,"orient":"left","offset":-153,"values":[0,22.727,45.455,68.182,90.909],"labelExpr":"format(datum.value*1.1,'d')","title":"Count"}}}},
  {"mark":{"type":"rect"},"encoding":{"x":{"datum":0},"x2":{"datum":100},"y":{"datum":0},"y2":{"datum":100}}},
  {"mark":{"type":"rule"},"encoding":{"x":{"datum":28},"y":{"datum":0},"y2":{"datum":100}}},
  {"mark":{"type":"rule"},"encoding":{"x":{"datum":28},"x2":{"datum":100},"y":{"datum":88}}},
  {"mark":{"type":"rule","color":"#111","strokeWidth":2.2},"encoding":{"x":{"datum":35},"x2":{"datum":94},"y":{"datum":40}}},
  {"mark":{"type":"point","shape":"triangle-left"},"encoding":{"x":{"datum":36},"y":{"datum":40}}},
  {"mark":{"type":"point","shape":"triangle-right"},"encoding":{"x":{"datum":93},"y":{"datum":40}}},
  {"mark":{"type":"text","text":"25.2  %"},"encoding":{"x":{"datum":65},"y":{"datum":50}}},
  {"mark":{"type":"text","text":"P2","fontSize":4.5,"font":"Liberation Sans"},"encoding":{"x":{"datum":61},"y":{"datum":49}}},
  {"mark":{"type":"text","text":["0.1 µM","Cycloheximide"],"lineHeight":15,"baseline":"alphabetic"},"encoding":{"x":{"datum":43.09},"y":{"datum":123.86}}}
 ]},
 {"data":{"values":[{}]},"layer":[
  {"mark":{"type":"rect","fill":"#a0a0a0","fillOpacity":1,"strokeWidth":0},"encoding":{"x":{"datum":-23.66},"x2":{"datum":111.83},"y":{"datum":-26.97},"y2":{"datum":100}}},
  {"mark":{"type":"rect","fill":"white","fillOpacity":1,"stroke":"#3a3a3a","strokeWidth":1.2},"encoding":{"x":{"datum":-25.81},"x2":{"datum":109.68},"y":{"datum":-24.72},"y2":{"datum":102.25}}},
  {"data":{"name":"chx1"},"mark":{"type":"area","fill":"#7d7d7d","stroke":"#3a3a3a","strokeWidth":0.6},
   "encoding":{
    "x":{"field":"x","type":"quantitative","scale":{"domain":[0,100],"range":[284,377],"nice":false,"zero":false},"axis":{"zindex":1,"labelOverlap":false,"orient":"bottom","offset":-337,"values":[3,13,21,46,69,92],"labelExpr":"datum.value==3?'-190':datum.value==13?'0':datum.value==21?'10²':datum.value==46?'10³':datum.value==69?'10⁴':'10⁵'","title":"PE-A"}},
    "y":{"field":"y","type":"quantitative","scale":{"domain":[0,100],"range":[453,364],"nice":false},"axis":{"zindex":1,"labelOverlap":false,"orient":"left","offset":-284,"values":[0,18.519,37.037,55.556,74.074,92.593],"labelExpr":"format(datum.value*1.35,'d')","title":"Count"}}}},
  {"mark":{"type":"rect"},"encoding":{"x":{"datum":0},"x2":{"datum":100},"y":{"datum":0},"y2":{"datum":100}}},
  {"mark":{"type":"rule"},"encoding":{"x":{"datum":26},"y":{"datum":0},"y2":{"datum":100}}},
  {"mark":{"type":"rule"},"encoding":{"x":{"datum":26},"x2":{"datum":100},"y":{"datum":51}}},
  {"mark":{"type":"rule","color":"#111","strokeWidth":2.2},"encoding":{"x":{"datum":20},"x2":{"datum":80},"y":{"datum":65}}},
  {"mark":{"type":"point","shape":"triangle-left"},"encoding":{"x":{"datum":21},"y":{"datum":65}}},
  {"mark":{"type":"point","shape":"triangle-right"},"encoding":{"x":{"datum":79},"y":{"datum":65}}},
  {"mark":{"type":"text","text":"31.8 %"},"encoding":{"x":{"datum":60},"y":{"datum":76}}},
  {"mark":{"type":"text","text":"P2","fontSize":4.5,"font":"Liberation Sans"},"encoding":{"x":{"datum":60},"y":{"datum":47}}},
  {"mark":{"type":"text","text":["1 µM","Cycloheximide"],"lineHeight":15,"baseline":"alphabetic"},"encoding":{"x":{"datum":41.94},"y":{"datum":122.47}}}
 ]},
 {"data":{"values":[{}]},"layer":[
  {"mark":{"type":"rect","fill":"#a0a0a0","fillOpacity":1,"strokeWidth":0},"encoding":{"x":{"datum":-23.47},"x2":{"datum":111.22},"y":{"datum":-27.27},"y2":{"datum":101.14}}},
  {"mark":{"type":"rect","fill":"white","fillOpacity":1,"stroke":"#3a3a3a","strokeWidth":1.2},"encoding":{"x":{"datum":-25.51},"x2":{"datum":109.18},"y":{"datum":-25},"y2":{"datum":103.41}}},
  {"data":{"name":"chx10"},"mark":{"type":"area","fill":"#7d7d7d","stroke":"#3a3a3a","strokeWidth":0.6},
   "encoding":{
    "x":{"field":"x","type":"quantitative","scale":{"domain":[0,100],"range":[415,513],"nice":false,"zero":false},"axis":{"zindex":1,"labelOverlap":false,"orient":"bottom","offset":-337,"values":[3,13,21,46,69,92],"labelExpr":"datum.value==3?'-180':datum.value==13?'0':datum.value==21?'10²':datum.value==46?'10³':datum.value==69?'10⁴':'10⁵'","title":"PE-A"}},
    "y":{"field":"y","type":"quantitative","scale":{"domain":[0,100],"range":[453,365],"nice":false},"axis":{"zindex":1,"labelOverlap":false,"orient":"left","offset":-415,"values":[0,10.526,21.053,31.579,42.105,52.632,63.158,73.684,84.211,94.737],"labelExpr":"format(datum.value*0.95,'d')","title":"Count"}}}},
  {"mark":{"type":"rect"},"encoding":{"x":{"datum":0},"x2":{"datum":100},"y":{"datum":0},"y2":{"datum":100}}},
  {"mark":{"type":"rule"},"encoding":{"x":{"datum":28},"y":{"datum":0},"y2":{"datum":100}}},
  {"mark":{"type":"rule"},"encoding":{"x":{"datum":28},"x2":{"datum":100},"y":{"datum":51}}},
  {"mark":{"type":"rule","color":"#111","strokeWidth":2.2},"encoding":{"x":{"datum":31},"x2":{"datum":88},"y":{"datum":68}}},
  {"mark":{"type":"point","shape":"triangle-left"},"encoding":{"x":{"datum":32},"y":{"datum":68}}},
  {"mark":{"type":"point","shape":"triangle-right"},"encoding":{"x":{"datum":87},"y":{"datum":68}}},
  {"mark":{"type":"text","text":"42.7 %"},"encoding":{"x":{"datum":61},"y":{"datum":79}}},
  {"mark":{"type":"text","text":"P2","fontSize":4.5,"font":"Liberation Sans"},"encoding":{"x":{"datum":61},"y":{"datum":47}}},
  {"mark":{"type":"text","text":["10 µM","Cycloheximide"],"lineHeight":15,"baseline":"alphabetic"},"encoding":{"x":{"datum":41.84},"y":{"datum":123.86}}}
 ]},
 {"data":{"values":[{}]},"layer":[
  {"mark":{"type":"rect","fill":"#a0a0a0","fillOpacity":1,"strokeWidth":0},"encoding":{"x":{"datum":-25.53},"x2":{"datum":109.58},"y":{"datum":-25.85},"y2":{"datum":101.12}}},
  {"mark":{"type":"rect","fill":"white","fillOpacity":1,"stroke":"#3a3a3a","strokeWidth":1.2},"encoding":{"x":{"datum":-27.66},"x2":{"datum":107.45},"y":{"datum":-23.6},"y2":{"datum":103.37}}},
  {"data":{"name":"chx100"},"mark":{"type":"area","fill":"#7d7d7d","stroke":"#3a3a3a","strokeWidth":0.6},
   "encoding":{
    "x":{"field":"x","type":"quantitative","scale":{"domain":[0,100],"range":[553,647],"nice":false,"zero":false},"axis":{"zindex":1,"labelOverlap":false,"orient":"bottom","offset":-336,"values":[3,13,21,46,69,92],"labelExpr":"datum.value==3?'-176':datum.value==13?'0':datum.value==21?'10²':datum.value==46?'10³':datum.value==69?'10⁴':'10⁵'","title":"PE-A"}},
    "y":{"field":"y","type":"quantitative","scale":{"domain":[0,100],"range":[454,365],"nice":false},"axis":{"zindex":1,"labelOverlap":false,"orient":"left","offset":-553,"values":[0,13.514,27.027,40.541,54.054,67.568,81.081,94.595],"labelExpr":"format(datum.value*0.37,'d')","title":"Count"}}}},
  {"mark":{"type":"rect"},"encoding":{"x":{"datum":0},"x2":{"datum":100},"y":{"datum":0},"y2":{"datum":100}}},
  {"mark":{"type":"rule"},"encoding":{"x":{"datum":23},"y":{"datum":0},"y2":{"datum":100}}},
  {"mark":{"type":"rule"},"encoding":{"x":{"datum":23},"x2":{"datum":100},"y":{"datum":48}}},
  {"mark":{"type":"rule","color":"#111","strokeWidth":2.2},"encoding":{"x":{"datum":34},"x2":{"datum":93},"y":{"datum":68}}},
  {"mark":{"type":"point","shape":"triangle-left"},"encoding":{"x":{"datum":35},"y":{"datum":68}}},
  {"mark":{"type":"point","shape":"triangle-right"},"encoding":{"x":{"datum":92},"y":{"datum":68}}},
  {"mark":{"type":"text","text":"84.5 %"},"encoding":{"x":{"datum":61},"y":{"datum":79}}},
  {"mark":{"type":"text","text":"P2","fontSize":4.5,"font":"Liberation Sans"},"encoding":{"x":{"datum":61},"y":{"datum":51}}},
  {"mark":{"type":"text","text":["100 µM","Cycloheximide"],"lineHeight":15,"baseline":"alphabetic"},"encoding":{"x":{"datum":39.9},"y":{"datum":123.6}}}
 ]},
 {"data":{"values":[{}]},"layer":[
  {"mark":{"type":"rect","fill":"#a0a0a0","fillOpacity":1,"strokeWidth":0},"encoding":{"x":{"datum":-24.14},"x2":{"datum":108.05},"y":{"datum":-22.35},"y2":{"datum":115.3}}},
  {"mark":{"type":"rect","fill":"white","fillOpacity":1,"stroke":"#3a3a3a","strokeWidth":1.2},"encoding":{"x":{"datum":-26.44},"x2":{"datum":105.75},"y":{"datum":-20},"y2":{"datum":117.65}}},
  {"data":{"name":"dnd"},"mark":{"type":"area","fill":"#7d7d7d","stroke":"#3a3a3a","strokeWidth":0.6},
   "encoding":{
    "x":{"field":"x","type":"quantitative","scale":{"domain":[0,100],"range":[46,133],"nice":false,"zero":false},"axis":{"zindex":1,"labelOverlap":false,"orient":"bottom","offset":-172,"values":[3,13,21,46,69,92],"labelExpr":"datum.value==3?'-144':datum.value==13?'0':datum.value==21?'10²':datum.value==46?'10³':datum.value==69?'10⁴':'10⁵'","title":"PE-A"}},
    "y":{"field":"y","type":"quantitative","scale":{"domain":[0,100],"range":[618,533],"nice":false},"axis":{"zindex":1,"labelOverlap":false,"orient":"left","offset":-46,"values":[0,11.905,23.81,35.714,47.619,59.524,71.429,83.333,95.238],"labelExpr":"format(datum.value*4.2,'d')","title":"Count"}}}},
  {"mark":{"type":"rect"},"encoding":{"x":{"datum":0},"x2":{"datum":100},"y":{"datum":0},"y2":{"datum":100}}},
  {"mark":{"type":"rule"},"encoding":{"x":{"datum":28},"y":{"datum":0},"y2":{"datum":100}}},
  {"mark":{"type":"rule"},"encoding":{"x":{"datum":28},"x2":{"datum":100},"y":{"datum":16}}},
  {"mark":{"type":"rule","color":"#111","strokeWidth":2.2},"encoding":{"x":{"datum":30},"x2":{"datum":97},"y":{"datum":39}}},
  {"mark":{"type":"point","shape":"triangle-left"},"encoding":{"x":{"datum":31},"y":{"datum":39}}},
  {"mark":{"type":"point","shape":"triangle-right"},"encoding":{"x":{"datum":96},"y":{"datum":39}}},
  {"mark":{"type":"text","text":"7.2 %"},"encoding":{"x":{"datum":63},"y":{"datum":24}}},
  {"mark":{"type":"text","text":"PI","fontSize":4.5,"font":"Liberation Sans"},"encoding":{"x":{"datum":62},"y":{"datum":48}}},
  {"mark":{"type":"text","text":"No drug control","baseline":"alphabetic"},"encoding":{"x":{"datum":39.66},"y":{"datum":121.18}}},
  {"mark":{"type":"text","text":"D","fontSize":15,"baseline":"alphabetic"},"encoding":{"x":{"datum":-39.08},"y":{"datum":129.41}}}
 ]},
 {"data":{"values":[{}]},"layer":[
  {"mark":{"type":"rect","fill":"#a0a0a0","fillOpacity":1,"strokeWidth":0},"encoding":{"x":{"datum":-14.71},"x2":{"datum":106.86},"y":{"datum":-22.47},"y2":{"datum":108.99}}},
  {"mark":{"type":"rect","fill":"white","fillOpacity":1,"stroke":"#3a3a3a","strokeWidth":1.2},"encoding":{"x":{"datum":-16.67},"x2":{"datum":104.9},"y":{"datum":-20.22},"y2":{"datum":111.24}}},
  {"data":{"name":"r01"},"mark":{"type":"area","fill":"#7d7d7d","stroke":"#3a3a3a","strokeWidth":0.6},
   "encoding":{
    "x":{"field":"x","type":"quantitative","scale":{"domain":[0,100],"range":[167,269],"nice":false,"zero":false},"axis":{"zindex":1,"labelOverlap":false,"orient":"bottom","offset":-173,"values":[3,13,21,46,69,92],"labelExpr":"datum.value==3?'-151':datum.value==13?'0':datum.value==21?'10²':datum.value==46?'10³':datum.value==69?'10⁴':'10⁵'","title":"PE-A"}},
    "y":{"field":"y","type":"quantitative","scale":{"domain":[0,100],"range":[617,528],"nice":false},"axis":{"zindex":1,"labelOverlap":false,"orient":"left","offset":-167,"values":[0,11.905,23.81,35.714,47.619,59.524,71.429,83.333,95.238],"labelExpr":"format(datum.value*4.2,'d')","title":"Count"}}}},
  {"mark":{"type":"rect"},"encoding":{"x":{"datum":0},"x2":{"datum":100},"y":{"datum":0},"y2":{"datum":100}}},
  {"mark":{"type":"rule"},"encoding":{"x":{"datum":31},"y":{"datum":0},"y2":{"datum":100}}},
  {"mark":{"type":"rule"},"encoding":{"x":{"datum":31},"x2":{"datum":100},"y":{"datum":24}}},
  {"mark":{"type":"rule","color":"#111","strokeWidth":2.2},"encoding":{"x":{"datum":32},"x2":{"datum":88},"y":{"datum":37}}},
  {"mark":{"type":"point","shape":"triangle-left"},"encoding":{"x":{"datum":33},"y":{"datum":37}}},
  {"mark":{"type":"point","shape":"triangle-right"},"encoding":{"x":{"datum":87},"y":{"datum":37}}},
  {"mark":{"type":"text","text":"11.4 %"},"encoding":{"x":{"datum":62},"y":{"datum":24}}},
  {"mark":{"type":"text","text":"PI","fontSize":4.5,"font":"Liberation Sans"},"encoding":{"x":{"datum":62},"y":{"datum":50}}},
  {"mark":{"type":"text","text":"0.1 µM Ruxolitinib","baseline":"alphabetic"},"encoding":{"x":{"datum":44.12},"y":{"datum":114.61}}}
 ]},
 {"data":{"values":[{}]},"layer":[
  {"mark":{"type":"rect","fill":"#a0a0a0","fillOpacity":1,"strokeWidth":0},"encoding":{"x":{"datum":-16.67},"x2":{"datum":106.86},"y":{"datum":-22.99},"y2":{"datum":111.49}}},
  {"mark":{"type":"rect","fill":"white","fillOpacity":1,"stroke":"#3a3a3a","strokeWidth":1.2},"encoding":{"x":{"datum":-18.63},"x2":{"datum":104.9},"y":{"datum":-20.69},"y2":{"datum":113.79}}},
  {"data":{"name":"r1"},"mark":{"type":"area","fill":"#7d7d7d","stroke":"#3a3a3a","strokeWidth":0.6},
   "encoding":{
    "x":{"field":"x","type":"quantitative","scale":{"domain":[0,100],"range":[298,400],"nice":false,"zero":false},"axis":{"zindex":1,"labelOverlap":false,"orient":"bottom","offset":-173,"values":[3,13,21,46,69,92],"labelExpr":"datum.value==3?'-146':datum.value==13?'0':datum.value==21?'10²':datum.value==46?'10³':datum.value==69?'10⁴':'10⁵'","title":"PE-A"}},
    "y":{"field":"y","type":"quantitative","scale":{"domain":[0,100],"range":[617,530],"nice":false},"axis":{"zindex":1,"labelOverlap":false,"orient":"left","offset":-298,"values":[0,11.905,23.81,35.714,47.619,59.524,71.429,83.333,95.238],"labelExpr":"format(datum.value*4.2,'d')","title":"Count"}}}},
  {"mark":{"type":"rect"},"encoding":{"x":{"datum":0},"x2":{"datum":100},"y":{"datum":0},"y2":{"datum":100}}},
  {"mark":{"type":"rule"},"encoding":{"x":{"datum":31},"y":{"datum":0},"y2":{"datum":100}}},
  {"mark":{"type":"rule"},"encoding":{"x":{"datum":31},"x2":{"datum":100},"y":{"datum":22}}},
  {"mark":{"type":"rule","color":"#111","strokeWidth":2.2},"encoding":{"x":{"datum":38},"x2":{"datum":85},"y":{"datum":37}}},
  {"mark":{"type":"point","shape":"triangle-left"},"encoding":{"x":{"datum":39},"y":{"datum":37}}},
  {"mark":{"type":"point","shape":"triangle-right"},"encoding":{"x":{"datum":84},"y":{"datum":37}}},
  {"mark":{"type":"text","text":"13.9 %"},"encoding":{"x":{"datum":56},"y":{"datum":27}}},
  {"mark":{"type":"text","text":"PI","fontSize":4.5,"font":"Liberation Sans"},"encoding":{"x":{"datum":59},"y":{"datum":50}}},
  {"mark":{"type":"text","text":"1 µM Ruxolitinib*","baseline":"alphabetic"},"encoding":{"x":{"datum":43.14},"y":{"datum":117.24}}}
 ]},
 {"data":{"values":[{}]},"layer":[
  {"mark":{"type":"rect","fill":"#a0a0a0","fillOpacity":1,"strokeWidth":0},"encoding":{"x":{"datum":-11.11},"x2":{"datum":109.26},"y":{"datum":-22.22},"y2":{"datum":107.78}}},
  {"mark":{"type":"rect","fill":"white","fillOpacity":1,"stroke":"#3a3a3a","strokeWidth":1.2},"encoding":{"x":{"datum":-12.96},"x2":{"datum":107.41},"y":{"datum":-20},"y2":{"datum":110}}},
  {"data":{"name":"r10"},"mark":{"type":"area","fill":"#7d7d7d","stroke":"#3a3a3a","strokeWidth":0.6},
   "encoding":{
    "x":{"field":"x","type":"quantitative","scale":{"domain":[0,100],"range":[425,533],"nice":false,"zero":false},"axis":{"zindex":1,"labelOverlap":false,"orient":"bottom","offset":-173,"values":[3,13,21,46,69,92],"labelExpr":"datum.value==3?'-266':datum.value==13?'0':datum.value==21?'10²':datum.value==46?'10³':datum.value==69?'10⁴':'10⁵'","title":"PE-A"}},
    "y":{"field":"y","type":"quantitative","scale":{"domain":[0,100],"range":[617,527],"nice":false},"axis":{"zindex":1,"labelOverlap":false,"orient":"left","offset":-425,"values":[0,11.905,23.81,35.714,47.619,59.524,71.429,83.333,95.238],"labelExpr":"format(datum.value*4.2,'d')","title":"Count"}}}},
  {"mark":{"type":"rect"},"encoding":{"x":{"datum":0},"x2":{"datum":100},"y":{"datum":0},"y2":{"datum":100}}},
  {"mark":{"type":"rule"},"encoding":{"x":{"datum":31},"y":{"datum":0},"y2":{"datum":100}}},
  {"mark":{"type":"rule"},"encoding":{"x":{"datum":31},"x2":{"datum":100},"y":{"datum":13}}},
  {"mark":{"type":"rule","color":"#111","strokeWidth":2.2},"encoding":{"x":{"datum":37},"x2":{"datum":88},"y":{"datum":36}}},
  {"mark":{"type":"point","shape":"triangle-left"},"encoding":{"x":{"datum":38},"y":{"datum":36}}},
  {"mark":{"type":"point","shape":"triangle-right"},"encoding":{"x":{"datum":87},"y":{"datum":36}}},
  {"mark":{"type":"text","text":"15.0 %"},"encoding":{"x":{"datum":60},"y":{"datum":23}}},
  {"mark":{"type":"text","text":"PI","fontSize":4.5,"font":"Liberation Sans"},"encoding":{"x":{"datum":63},"y":{"datum":50}}},
  {"mark":{"type":"text","text":"10 µM Ruxolitinib*","baseline":"alphabetic"},"encoding":{"x":{"datum":47.22},"y":{"datum":113.33}}}
 ]},
 {"data":{"values":[{}]},"layer":[
  {"mark":{"type":"rect","fill":"#a0a0a0","fillOpacity":1,"strokeWidth":0},"encoding":{"x":{"datum":-13.34},"x2":{"datum":109.52},"y":{"datum":-22.22},"y2":{"datum":107.78}}},
  {"mark":{"type":"rect","fill":"white","fillOpacity":1,"stroke":"#3a3a3a","strokeWidth":1.2},"encoding":{"x":{"datum":-15.24},"x2":{"datum":107.62},"y":{"datum":-20},"y2":{"datum":110}}},
  {"data":{"name":"r50"},"mark":{"type":"area","fill":"#7d7d7d","stroke":"#3a3a3a","strokeWidth":0.6},
   "encoding":{
    "x":{"field":"x","type":"quantitative","scale":{"domain":[0,100],"range":[570,675],"nice":false,"zero":false},"axis":{"zindex":1,"labelOverlap":false,"orient":"bottom","offset":-173,"values":[3,13,21,46,69,92],"labelExpr":"datum.value==3?'-182':datum.value==13?'0':datum.value==21?'10²':datum.value==46?'10³':datum.value==69?'10⁴':'10⁵'","title":"PE-A"}},
    "y":{"field":"y","type":"quantitative","scale":{"domain":[0,100],"range":[617,527],"nice":false},"axis":{"zindex":1,"labelOverlap":false,"orient":"left","offset":-570,"values":[0,11.905,23.81,35.714,47.619,59.524,71.429,83.333,95.238],"labelExpr":"format(datum.value*4.2,'d')","title":"Count"}}}},
  {"mark":{"type":"rect"},"encoding":{"x":{"datum":0},"x2":{"datum":100},"y":{"datum":0},"y2":{"datum":100}}},
  {"mark":{"type":"rule"},"encoding":{"x":{"datum":31},"y":{"datum":0},"y2":{"datum":100}}},
  {"mark":{"type":"rule"},"encoding":{"x":{"datum":31},"x2":{"datum":100},"y":{"datum":24}}},
  {"mark":{"type":"rule","color":"#111","strokeWidth":2.2},"encoding":{"x":{"datum":38},"x2":{"datum":91},"y":{"datum":38}}},
  {"mark":{"type":"point","shape":"triangle-left"},"encoding":{"x":{"datum":39},"y":{"datum":38}}},
  {"mark":{"type":"point","shape":"triangle-right"},"encoding":{"x":{"datum":90},"y":{"datum":38}}},
  {"mark":{"type":"text","text":"23.0 %"},"encoding":{"x":{"datum":65},"y":{"datum":23}}},
  {"mark":{"type":"text","text":"PI","fontSize":4.5,"font":"Liberation Sans"},"encoding":{"x":{"datum":65},"y":{"datum":52}}},
  {"mark":{"type":"text","text":"50 µM Ruxolitinib","baseline":"alphabetic"},"encoding":{"x":{"datum":46.19},"y":{"datum":113.33}}}
 ]},
 {"data":{"values":[{}]},"layer":[
  {"mark":{"type":"rect","fill":"#a0a0a0","fillOpacity":1,"strokeWidth":0},"encoding":{"x":{"datum":-22.47},"x2":{"datum":106.74},"y":{"datum":-22.35},"y2":{"datum":116.47}}},
  {"mark":{"type":"rect","fill":"white","fillOpacity":1,"stroke":"#3a3a3a","strokeWidth":1.2},"encoding":{"x":{"datum":-24.72},"x2":{"datum":104.49},"y":{"datum":-20},"y2":{"datum":118.82}}},
  {"data":{"name":"end"},"mark":{"type":"area","fill":"#7d7d7d","stroke":"#3a3a3a","strokeWidth":0.6},
   "encoding":{
    "x":{"field":"x","type":"quantitative","scale":{"domain":[0,100],"range":[45,134],"nice":false,"zero":false},"axis":{"zindex":1,"labelOverlap":false,"orient":"bottom","offset":-22,"values":[3,13,21,46,69,92],"labelExpr":"datum.value==3?'-144':datum.value==13?'0':datum.value==21?'10²':datum.value==46?'10³':datum.value==69?'10⁴':'10⁵'","title":"PE-A"}},
    "y":{"field":"y","type":"quantitative","scale":{"domain":[0,100],"range":[768,683],"nice":false},"axis":{"zindex":1,"labelOverlap":false,"orient":"left","offset":-45,"values":[0,11.905,23.81,35.714,47.619,59.524,71.429,83.333,95.238],"labelExpr":"format(datum.value*4.2,'d')","title":"Count"}}}},
  {"mark":{"type":"rect"},"encoding":{"x":{"datum":0},"x2":{"datum":100},"y":{"datum":0},"y2":{"datum":100}}},
  {"mark":{"type":"rule"},"encoding":{"x":{"datum":30},"y":{"datum":0},"y2":{"datum":100}}},
  {"mark":{"type":"rule"},"encoding":{"x":{"datum":30},"x2":{"datum":100},"y":{"datum":18}}},
  {"mark":{"type":"rule","color":"#111","strokeWidth":2.2},"encoding":{"x":{"datum":33},"x2":{"datum":97},"y":{"datum":31}}},
  {"mark":{"type":"point","shape":"triangle-left"},"encoding":{"x":{"datum":34},"y":{"datum":31}}},
  {"mark":{"type":"point","shape":"triangle-right"},"encoding":{"x":{"datum":96},"y":{"datum":31}}},
  {"mark":{"type":"text","text":"7.2 %"},"encoding":{"x":{"datum":63},"y":{"datum":23}}},
  {"mark":{"type":"text","text":"PI","fontSize":4.5,"font":"Liberation Sans"},"encoding":{"x":{"datum":65},"y":{"datum":53}}},
  {"mark":{"type":"text","text":"No drug control","baseline":"alphabetic"},"encoding":{"x":{"datum":39.89},"y":{"datum":128.24}}},
  {"mark":{"type":"text","text":"E","fontSize":15,"baseline":"alphabetic"},"encoding":{"x":{"datum":-37.08},"y":{"datum":132.94}}}
 ]},
 {"data":{"values":[{}]},"layer":[
  {"mark":{"type":"rect","fill":"#a0a0a0","fillOpacity":1,"strokeWidth":0},"encoding":{"x":{"datum":-13.34},"x2":{"datum":108.57},"y":{"datum":-28.23},"y2":{"datum":110.59}}},
  {"mark":{"type":"rect","fill":"white","fillOpacity":1,"stroke":"#3a3a3a","strokeWidth":1.2},"encoding":{"x":{"datum":-15.24},"x2":{"datum":106.67},"y":{"datum":-25.88},"y2":{"datum":112.94}}},
  {"data":{"name":"t01"},"mark":{"type":"area","fill":"#7d7d7d","stroke":"#3a3a3a","strokeWidth":0.6},
   "encoding":{
    "x":{"field":"x","type":"quantitative","scale":{"domain":[0,100],"range":[163,268],"nice":false,"zero":false},"axis":{"zindex":1,"labelOverlap":false,"orient":"bottom","offset":-27,"values":[3,13,21,46,69,92],"labelExpr":"datum.value==3?'-140':datum.value==13?'0':datum.value==21?'10²':datum.value==46?'10³':datum.value==69?'10⁴':'10⁵'","title":"PE-A"}},
    "y":{"field":"y","type":"quantitative","scale":{"domain":[0,100],"range":[763,678],"nice":false},"axis":{"zindex":1,"labelOverlap":false,"orient":"left","offset":-163,"values":[0,11.905,23.81,35.714,47.619,59.524,71.429,83.333,95.238],"labelExpr":"format(datum.value*4.2,'d')","title":"Count"}}}},
  {"mark":{"type":"rect"},"encoding":{"x":{"datum":0},"x2":{"datum":100},"y":{"datum":0},"y2":{"datum":100}}},
  {"mark":{"type":"rule"},"encoding":{"x":{"datum":31},"y":{"datum":0},"y2":{"datum":100}}},
  {"mark":{"type":"rule"},"encoding":{"x":{"datum":31},"x2":{"datum":100},"y":{"datum":19}}},
  {"mark":{"type":"rule","color":"#111","strokeWidth":2.2},"encoding":{"x":{"datum":37},"x2":{"datum":92},"y":{"datum":31}}},
  {"mark":{"type":"point","shape":"triangle-left"},"encoding":{"x":{"datum":38},"y":{"datum":31}}},
  {"mark":{"type":"point","shape":"triangle-right"},"encoding":{"x":{"datum":91},"y":{"datum":31}}},
  {"mark":{"type":"text","text":"10.3 %"},"encoding":{"x":{"datum":69},"y":{"datum":12}}},
  {"mark":{"type":"text","text":"PI","fontSize":4.5,"font":"Liberation Sans"},"encoding":{"x":{"datum":64},"y":{"datum":47}}},
  {"mark":{"type":"text","text":"0.1 µM Tofacitinib","baseline":"alphabetic"},"encoding":{"x":{"datum":45.71},"y":{"datum":122.35}}}
 ]},
 {"data":{"values":[{}]},"layer":[
  {"mark":{"type":"rect","fill":"#a0a0a0","fillOpacity":1,"strokeWidth":0},"encoding":{"x":{"datum":-19.15},"x2":{"datum":111.7},"y":{"datum":-28.92},"y2":{"datum":113.25}}},
  {"mark":{"type":"rect","fill":"white","fillOpacity":1,"stroke":"#3a3a3a","strokeWidth":1.2},"encoding":{"x":{"datum":-21.28},"x2":{"datum":109.57},"y":{"datum":-26.51},"y2":{"datum":115.66}}},
  {"data":{"name":"t1"},"mark":{"type":"area","fill":"#7d7d7d","stroke":"#3a3a3a","strokeWidth":0.6},
   "encoding":{
    "x":{"field":"x","type":"quantitative","scale":{"domain":[0,100],"range":[302,396],"nice":false,"zero":false},"axis":{"zindex":1,"labelOverlap":false,"orient":"bottom","offset":-27,"values":[3,13,21,46,69,92],"labelExpr":"datum.value==3?'-151':datum.value==13?'0':datum.value==21?'10²':datum.value==46?'10³':datum.value==69?'10⁴':'10⁵'","title":"PE-A"}},
    "y":{"field":"y","type":"quantitative","scale":{"domain":[0,100],"range":[763,680],"nice":false},"axis":{"zindex":1,"labelOverlap":false,"orient":"left","offset":-302,"values":[0,11.905,23.81,35.714,47.619,59.524,71.429,83.333,95.238],"labelExpr":"format(datum.value*4.2,'d')","title":"Count"}}}},
  {"mark":{"type":"rect"},"encoding":{"x":{"datum":0},"x2":{"datum":100},"y":{"datum":0},"y2":{"datum":100}}},
  {"mark":{"type":"rule"},"encoding":{"x":{"datum":30},"y":{"datum":0},"y2":{"datum":100}}},
  {"mark":{"type":"rule"},"encoding":{"x":{"datum":30},"x2":{"datum":100},"y":{"datum":19}}},
  {"mark":{"type":"rule","color":"#111","strokeWidth":2.2},"encoding":{"x":{"datum":35},"x2":{"datum":97},"y":{"datum":31}}},
  {"mark":{"type":"point","shape":"triangle-left"},"encoding":{"x":{"datum":36},"y":{"datum":31}}},
  {"mark":{"type":"point","shape":"triangle-right"},"encoding":{"x":{"datum":96},"y":{"datum":31}}},
  {"mark":{"type":"text","text":"13.7 %"},"encoding":{"x":{"datum":62},"y":{"datum":12}}},
  {"mark":{"type":"text","text":"PI","fontSize":4.5,"font":"Liberation Sans"},"encoding":{"x":{"datum":69},"y":{"datum":49}}},
  {"mark":{"type":"text","text":"1 µM Tofacitinib *","baseline":"alphabetic"},"encoding":{"x":{"datum":44.15},"y":{"datum":125.3}}}
 ]},
 {"data":{"values":[{}]},"layer":[
  {"mark":{"type":"rect","fill":"#a0a0a0","fillOpacity":1,"strokeWidth":0},"encoding":{"x":{"datum":-9.09},"x2":{"datum":110},"y":{"datum":-30.12},"y2":{"datum":112.05}}},
  {"mark":{"type":"rect","fill":"white","fillOpacity":1,"stroke":"#3a3a3a","strokeWidth":1.2},"encoding":{"x":{"datum":-10.91},"x2":{"datum":108.18},"y":{"datum":-27.71},"y2":{"datum":114.46}}},
  {"data":{"name":"t10"},"mark":{"type":"area","fill":"#7d7d7d","stroke":"#3a3a3a","strokeWidth":0.6},
   "encoding":{
    "x":{"field":"x","type":"quantitative","scale":{"domain":[0,100],"range":[424,534],"nice":false,"zero":false},"axis":{"zindex":1,"labelOverlap":false,"orient":"bottom","offset":-28,"values":[3,13,21,46,69,92],"labelExpr":"datum.value==3?'-158':datum.value==13?'0':datum.value==21?'10²':datum.value==46?'10³':datum.value==69?'10⁴':'10⁵'","title":"PE-A"}},
    "y":{"field":"y","type":"quantitative","scale":{"domain":[0,100],"range":[762,679],"nice":false},"axis":{"zindex":1,"labelOverlap":false,"orient":"left","offset":-424,"values":[0,11.905,23.81,35.714,47.619,59.524,71.429,83.333,95.238],"labelExpr":"format(datum.value*4.2,'d')","title":"Count"}}}},
  {"mark":{"type":"rect"},"encoding":{"x":{"datum":0},"x2":{"datum":100},"y":{"datum":0},"y2":{"datum":100}}},
  {"mark":{"type":"rule"},"encoding":{"x":{"datum":32},"y":{"datum":0},"y2":{"datum":100}}},
  {"mark":{"type":"rule"},"encoding":{"x":{"datum":32},"x2":{"datum":100},"y":{"datum":18}}},
  {"mark":{"type":"rule","color":"#111","strokeWidth":2.2},"encoding":{"x":{"datum":37},"x2":{"datum":88},"y":{"datum":30}}},
  {"mark":{"type":"point","shape":"triangle-left"},"encoding":{"x":{"datum":38},"y":{"datum":30}}},
  {"mark":{"type":"point","shape":"triangle-right"},"encoding":{"x":{"datum":87},"y":{"datum":30}}},
  {"mark":{"type":"text","text":"13.4 %"},"encoding":{"x":{"datum":62},"y":{"datum":11}}},
  {"mark":{"type":"text","text":"PI","fontSize":4.5,"font":"Liberation Sans"},"encoding":{"x":{"datum":65},"y":{"datum":47}}},
  {"mark":{"type":"text","text":"10 µM Tofacitinib*","baseline":"alphabetic"},"encoding":{"x":{"datum":48.64},"y":{"datum":124.1}}}
 ]},
 {"data":{"values":[{}]},"layer":[
  {"mark":{"type":"rect","fill":"#a0a0a0","fillOpacity":1,"strokeWidth":0},"encoding":{"x":{"datum":-13.2},"x2":{"datum":108.49},"y":{"datum":-29.41},"y2":{"datum":109.41}}},
  {"mark":{"type":"rect","fill":"white","fillOpacity":1,"stroke":"#3a3a3a","strokeWidth":1.2},"encoding":{"x":{"datum":-15.09},"x2":{"datum":106.6},"y":{"datum":-27.06},"y2":{"datum":111.76}}},
  {"data":{"name":"t50"},"mark":{"type":"area","fill":"#7d7d7d","stroke":"#3a3a3a","strokeWidth":0.6},
   "encoding":{
    "x":{"field":"x","type":"quantitative","scale":{"domain":[0,100],"range":[569,675],"nice":false,"zero":false},"axis":{"zindex":1,"labelOverlap":false,"orient":"bottom","offset":-28,"values":[3,13,21,46,69,92],"labelExpr":"datum.value==3?'-129':datum.value==13?'0':datum.value==21?'10²':datum.value==46?'10³':datum.value==69?'10⁴':'10⁵'","title":"PE-A"}},
    "y":{"field":"y","type":"quantitative","scale":{"domain":[0,100],"range":[762,677],"nice":false},"axis":{"zindex":1,"labelOverlap":false,"orient":"left","offset":-569,"values":[0,11.905,23.81,35.714,47.619,59.524,71.429,83.333,95.238],"labelExpr":"format(datum.value*4.2,'d')","title":"Count"}}}},
  {"mark":{"type":"rect"},"encoding":{"x":{"datum":0},"x2":{"datum":100},"y":{"datum":0},"y2":{"datum":100}}},
  {"mark":{"type":"rule"},"encoding":{"x":{"datum":31},"y":{"datum":0},"y2":{"datum":100}}},
  {"mark":{"type":"rule"},"encoding":{"x":{"datum":31},"x2":{"datum":100},"y":{"datum":19}}},
  {"mark":{"type":"rule","color":"#111","strokeWidth":2.2},"encoding":{"x":{"datum":28},"x2":{"datum":81},"y":{"datum":32}}},
  {"mark":{"type":"point","shape":"triangle-left"},"encoding":{"x":{"datum":29},"y":{"datum":32}}},
  {"mark":{"type":"point","shape":"triangle-right"},"encoding":{"x":{"datum":80},"y":{"datum":32}}},
  {"mark":{"type":"text","text":"14.2 %"},"encoding":{"x":{"datum":48},"y":{"datum":13}}},
  {"mark":{"type":"text","text":"PI","fontSize":4.5,"font":"Liberation Sans"},"encoding":{"x":{"datum":62},"y":{"datum":50}}},
  {"mark":{"type":"text","text":"50 µM Tofacitinib","baseline":"alphabetic"},"encoding":{"x":{"datum":45.76},"y":{"datum":121.18}}}
 ]}
]
}
